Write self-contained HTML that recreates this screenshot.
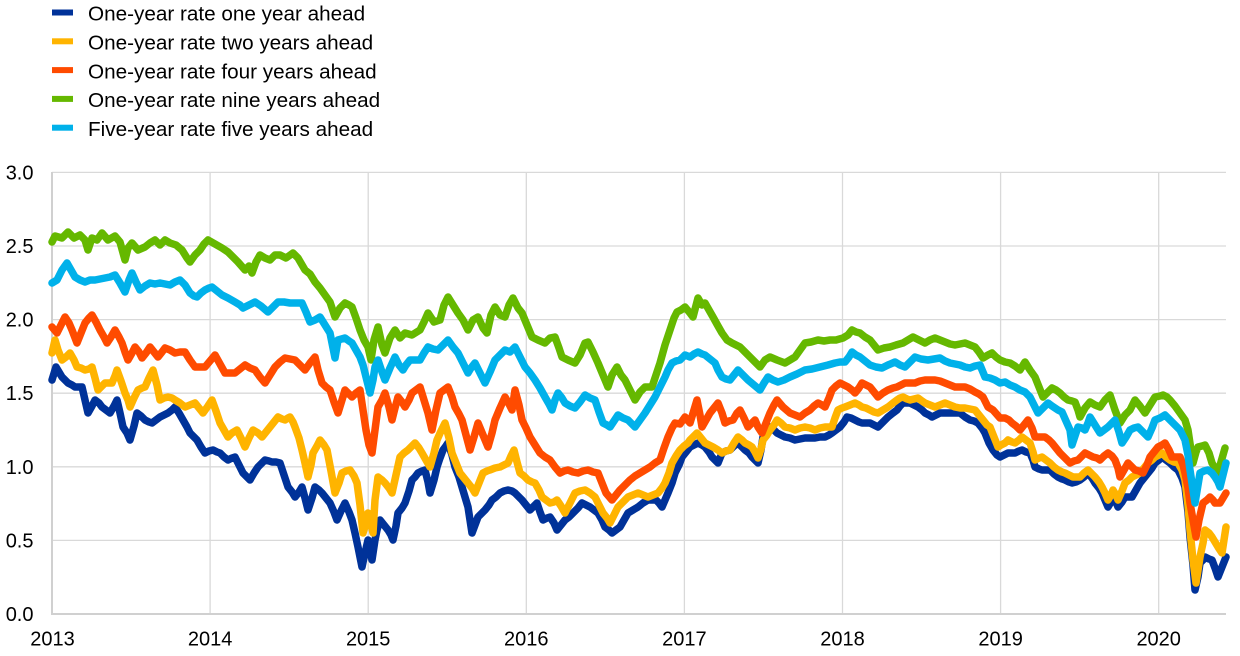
<!DOCTYPE html>
<html><head><meta charset="utf-8"><style>
html,body{margin:0;padding:0;background:#fff;}
svg{display:block;font-family:"Liberation Sans",Arial,sans-serif;}
</style></head><body>
<svg width="1240" height="656" viewBox="0 0 1240 656" xmlns="http://www.w3.org/2000/svg">
<rect width="1240" height="656" fill="#fff"/>
<!-- legend -->
<g font-size="20.7" fill="#000">
<rect x="52" y="9.5" width="21" height="6" fill="#003299"/><text x="88" y="20.7">One-year rate one year ahead</text>
<rect x="52" y="38.3" width="21" height="6" fill="#ffb400"/><text x="88" y="49.5">One-year rate two years ahead</text>
<rect x="52" y="67.1" width="21" height="6" fill="#ff4b00"/><text x="88" y="78.3">One-year rate four years ahead</text>
<rect x="52" y="95.9" width="21" height="6" fill="#65b800"/><text x="88" y="107.1">One-year rate nine years ahead</text>
<rect x="52" y="124.7" width="21" height="6" fill="#00b1ea"/><text x="88" y="135.9">Five-year rate five years ahead</text>
</g>
<!-- grid -->
<g stroke="#d9d9d9" stroke-width="1.3" fill="none">
<line x1="52" y1="172.4" x2="1226" y2="172.4"/>
<line x1="52" y1="246" x2="1226" y2="246"/>
<line x1="52" y1="319.6" x2="1226" y2="319.6"/>
<line x1="52" y1="393.2" x2="1226" y2="393.2"/>
<line x1="52" y1="466.8" x2="1226" y2="466.8"/>
<line x1="52" y1="540.4" x2="1226" y2="540.4"/>
<line x1="210.1" y1="172.4" x2="210.1" y2="614"/>
<line x1="368.2" y1="172.4" x2="368.2" y2="614"/>
<line x1="526.3" y1="172.4" x2="526.3" y2="614"/>
<line x1="684.4" y1="172.4" x2="684.4" y2="614"/>
<line x1="842.5" y1="172.4" x2="842.5" y2="614"/>
<line x1="1000.6" y1="172.4" x2="1000.6" y2="614"/>
<line x1="1158.7" y1="172.4" x2="1158.7" y2="614"/>
</g>
<g stroke="#d0d0d0" stroke-width="2" fill="none">
<line x1="52" y1="172" x2="52" y2="615"/>
<line x1="51" y1="614" x2="1226" y2="614"/>
</g>
<!-- axis labels -->
<g font-size="20" fill="#000" text-anchor="end">
<text x="33.5" y="179.4">3.0</text>
<text x="33.5" y="253">2.5</text>
<text x="33.5" y="326.6">2.0</text>
<text x="33.5" y="400.2">1.5</text>
<text x="33.5" y="473.8">1.0</text>
<text x="33.5" y="547.4">0.5</text>
<text x="33.5" y="621">0.0</text>
</g>
<g font-size="20" fill="#000" text-anchor="middle">
<text x="52.5" y="645.7">2013</text>
<text x="210.1" y="645.7">2014</text>
<text x="368.2" y="645.7">2015</text>
<text x="526.3" y="645.7">2016</text>
<text x="684.4" y="645.7">2017</text>
<text x="842.5" y="645.7">2018</text>
<text x="1000.6" y="645.7">2019</text>
<text x="1158.7" y="645.7">2020</text>
</g>
<!-- series -->
<g fill="none" stroke-width="7.5" stroke-linejoin="round" stroke-linecap="round">
<polyline stroke="#003299" points="52,380 56,367 59,372 62,377 65,380 68,383 72,385 75,387 79,387 82,387 85,400 88,413 92,406 95,400 99,403 102,407 106,410 110,413 114,406 117,400 120,413 123,427 127,433 130,440 134,426 137,413 141,416 145,420 149,422 152,423 156,420 160,417 164,415 168,413 172,410 175,407 179,413 183,420 187,427 190,433 194,437 197,440 201,447 205,453 209,451 213,450 217,452 220,453 224,457 228,460 232,458 235,457 239,465 243,473 247,477 250,480 254,473 258,467 262,463 265,460 269,461 272,462 276,462 280,463 284,475 288,487 292,492 295,497 299,492 302,487 305,498 308,510 312,498 315,487 319,490 322,493 326,498 330,503 334,512 337,520 341,511 345,503 349,512 352,520 355,533 358,547 360,557 362,567 365,553 368,540 370,550 372,560 375,540 377,530 380,520 384,525 388,530 391,535 393,540 396,526 398,513 402,508 405,503 409,491 412,480 415,477 418,473 422,471 425,470 428,482 430,493 434,480 437,467 440,458 443,450 446,446 448,443 452,455 455,467 459,477 462,487 465,497 468,507 470,520 472,533 475,525 478,517 482,513 485,510 489,505 492,500 496,497 500,493 504,491 508,490 512,491 515,493 519,497 522,500 526,505 530,510 534,506 537,503 540,512 543,520 547,518 550,517 554,523 557,530 561,525 565,520 569,517 573,513 578,508 582,503 586,505 590,507 594,510 598,513 602,520 605,527 609,530 612,533 616,530 620,527 624,520 628,513 633,510 638,507 643,503 648,500 652,500 656,500 659,503 662,507 665,500 668,493 672,483 675,473 679,465 682,457 686,452 690,447 694,445 698,443 702,445 705,447 709,452 712,457 715,460 718,463 720,458 722,453 726,451 730,450 734,446 738,443 742,447 745,450 749,453 752,457 755,460 758,463 761,450 763,437 767,432 770,427 774,430 777,433 781,435 785,437 790,438 795,440 800,439 805,438 810,438 815,438 820,437 825,437 829,435 832,433 836,430 840,427 844,422 847,417 851,418 855,420 859,422 862,423 866,423 870,423 874,425 878,427 883,422 888,417 893,413 897,410 900,406 903,403 907,403 910,403 914,405 918,407 922,410 925,413 929,415 932,417 936,415 940,413 945,413 950,413 955,413 960,413 965,417 970,420 974,421 978,423 982,428 985,433 989,443 993,450 997,455 1000,457 1004,455 1008,453 1012,453 1015,453 1019,451 1022,450 1026,452 1030,453 1033,460 1035,467 1039,469 1042,470 1046,470 1050,470 1054,474 1058,477 1062,479 1065,480 1069,482 1072,483 1076,482 1080,480 1084,477 1088,473 1092,478 1095,483 1099,488 1102,493 1105,500 1108,507 1111,502 1113,497 1116,502 1118,507 1122,502 1125,497 1129,497 1132,497 1136,490 1140,483 1144,478 1148,473 1152,468 1155,463 1159,460 1162,457 1166,460 1170,463 1174,467 1178,470 1182,478 1185,487 1188,512 1190,537 1193,565 1195,590 1198,577 1200,563 1203,560 1205,557 1209,559 1212,560 1215,568 1218,577 1220,572 1222,567 1224,562 1226,557"/>
<polyline stroke="#ffb400" points="52,353 55,340 58,350 62,360 66,357 70,353 74,360 77,367 81,368 85,370 89,369 92,367 95,378 98,390 102,386 105,383 109,383 112,383 115,376 117,370 121,381 125,393 128,400 130,407 134,398 138,390 142,388 145,387 149,378 153,370 157,385 160,400 164,398 168,397 172,398 175,400 180,403 185,407 190,405 195,403 199,408 203,413 208,406 212,400 216,411 220,423 224,430 228,437 232,433 237,430 241,438 245,447 249,438 253,430 258,433 262,437 266,432 270,427 274,422 278,417 282,419 285,420 288,418 290,417 293,422 295,427 299,438 302,450 305,463 308,477 311,465 313,453 317,446 320,440 324,445 327,450 331,471 335,493 339,483 342,473 346,471 350,470 354,476 357,483 360,505 363,533 366,523 368,513 370,520 373,533 375,500 378,477 382,480 385,483 389,488 392,493 396,475 400,457 404,453 408,450 412,446 415,443 419,448 422,453 426,460 430,467 434,453 437,440 441,431 445,423 449,438 452,453 456,463 460,473 464,478 468,483 472,488 475,493 479,483 483,473 487,471 490,470 495,468 500,467 504,465 508,463 511,456 514,450 517,462 520,473 524,476 528,480 532,482 535,483 539,490 542,497 546,500 550,503 554,502 557,500 561,506 565,513 570,503 575,493 580,491 585,490 590,493 595,497 599,505 603,513 607,518 610,523 614,515 618,507 623,502 628,497 633,495 638,493 643,495 648,497 653,495 658,493 662,488 665,483 669,473 672,463 676,456 680,450 684,446 688,443 690,440 694,436 697,433 701,438 705,443 709,445 713,447 718,450 722,453 726,451 730,450 734,443 738,437 742,440 745,443 749,445 752,447 755,452 758,458 761,449 763,440 767,435 770,430 774,425 777,420 781,423 785,427 790,428 795,430 800,428 805,427 810,428 815,430 820,428 825,427 829,427 832,427 835,418 838,410 842,408 845,407 850,405 855,403 859,405 862,407 866,408 870,410 874,412 878,413 883,410 888,407 893,403 897,400 900,398 903,397 907,399 910,400 914,399 918,398 922,401 925,403 930,405 935,407 940,405 945,403 950,405 955,407 960,408 965,408 970,409 975,410 979,415 983,420 987,425 990,427 994,437 998,447 1001,445 1005,443 1008,440 1012,442 1015,443 1019,440 1022,437 1026,440 1030,443 1033,452 1035,460 1039,458 1042,457 1046,460 1050,463 1054,467 1058,470 1062,472 1065,473 1069,475 1073,477 1077,477 1080,477 1084,473 1088,470 1092,474 1095,477 1099,482 1102,487 1105,493 1108,500 1111,495 1113,490 1116,495 1118,500 1122,491 1125,483 1129,480 1132,477 1136,475 1140,473 1144,468 1148,463 1152,460 1155,457 1159,455 1162,453 1166,457 1170,460 1174,462 1178,463 1182,470 1185,480 1188,505 1190,530 1193,560 1196,583 1198,570 1200,557 1203,543 1205,530 1209,533 1212,537 1215,542 1218,547 1220,550 1222,553 1224,540 1226,527"/>
<polyline stroke="#ff4b00" points="52,327 57,333 61,325 65,317 69,323 72,330 77,343 81,333 85,323 89,318 92,315 96,322 100,330 104,337 107,343 111,337 115,330 119,337 122,343 125,352 128,360 132,353 135,347 139,352 142,358 146,353 150,347 154,352 158,357 162,352 165,348 170,350 175,353 180,352 185,352 190,360 195,367 200,367 205,367 210,361 215,355 220,364 225,373 230,373 235,373 240,369 245,365 250,368 255,370 260,377 265,383 270,375 275,367 280,362 285,358 290,359 295,360 300,365 305,370 310,363 315,357 318,370 322,383 326,387 330,390 334,402 338,413 342,400 345,390 349,394 352,397 356,393 360,390 363,410 366,430 369,445 372,453 375,430 378,407 382,400 385,393 389,407 392,420 395,408 398,397 402,402 405,407 409,400 412,393 416,390 420,387 424,400 428,413 432,430 436,410 440,393 444,390 448,387 452,397 455,407 459,414 462,420 466,435 470,450 474,437 478,423 483,435 488,447 492,433 495,420 500,408 505,397 509,404 512,410 515,390 519,405 522,420 526,428 530,437 535,445 540,453 545,457 550,460 555,467 560,473 564,471 568,470 573,472 578,473 583,471 588,470 593,472 598,473 602,483 606,493 612,500 616,495 620,490 625,485 630,480 635,476 640,473 645,470 650,467 655,463 660,460 664,448 668,437 672,428 675,423 680,424 685,417 690,423 694,410 697,400 700,415 702,427 706,420 710,413 714,408 718,403 722,413 725,423 729,421 733,420 737,413 740,410 744,418 748,427 752,423 755,420 758,427 762,433 766,423 770,413 774,405 777,400 783,407 790,413 795,415 800,417 805,413 810,410 814,406 818,403 822,405 825,407 829,398 832,390 836,386 840,383 844,385 848,387 852,390 855,393 859,388 862,383 866,385 870,387 874,392 878,397 883,393 888,390 893,388 897,387 901,385 905,383 910,383 915,383 920,381 925,380 930,380 935,380 940,381 945,383 950,385 955,387 960,387 965,387 970,389 975,392 979,394 983,397 988,407 993,410 1000,418 1005,418 1009,420 1012,423 1016,426 1020,430 1024,425 1028,420 1032,428 1035,437 1040,437 1045,437 1049,440 1052,443 1056,448 1060,453 1065,458 1070,463 1074,461 1078,460 1082,456 1085,453 1089,455 1093,457 1097,458 1100,460 1104,456 1108,453 1112,456 1115,460 1118,468 1120,477 1124,470 1128,463 1132,467 1135,470 1139,471 1143,473 1147,465 1150,457 1154,452 1158,447 1162,445 1165,443 1169,450 1172,457 1176,457 1180,457 1183,465 1185,473 1188,488 1190,503 1193,520 1196,537 1199,520 1203,503 1207,500 1210,497 1213,500 1215,503 1218,503 1220,503 1223,498 1226,493"/>
<polyline stroke="#65b800" points="52,242 55,236 62,238 68,232 74,238 80,235 85,240 88,250 92,238 97,240 102,233 108,240 115,236 120,242 125,260 128,248 132,243 138,250 145,247 150,243 155,240 160,245 165,240 170,243 176,245 182,250 187,258 190,262 195,255 200,250 204,244 208,240 215,244 222,248 228,252 232,256 238,262 245,270 249,266 252,273 256,262 260,255 265,258 270,260 275,255 280,255 286,258 293,253 298,258 305,270 310,274 315,282 320,288 325,295 330,302 335,317 340,308 345,303 349,305 352,307 356,318 360,330 364,340 368,347 371,360 374,340 378,327 382,345 385,353 390,338 395,330 400,338 405,333 412,335 420,330 424,322 428,313 434,322 440,320 444,305 448,297 453,305 458,313 463,320 468,330 473,320 478,317 483,328 487,333 491,315 495,307 500,315 505,317 509,305 513,298 518,308 522,313 527,325 532,337 538,340 545,343 550,338 555,337 559,348 562,357 568,360 575,363 580,355 585,343 588,342 593,352 598,363 603,375 608,387 612,375 617,367 621,375 625,380 630,390 635,400 640,392 645,387 652,387 656,375 660,363 665,345 670,330 674,318 677,312 681,310 685,307 690,313 693,317 698,298 702,305 705,303 709,310 713,317 718,326 722,333 727,340 732,343 736,345 740,347 745,352 750,357 755,362 760,367 765,360 770,357 777,360 785,363 790,360 795,357 800,350 805,343 811,342 818,340 824,341 830,340 836,340 843,338 848,335 852,330 856,332 860,333 865,337 870,340 874,345 878,350 884,348 890,347 896,345 903,343 908,340 913,337 919,340 925,343 930,340 935,338 940,340 945,342 950,344 955,345 960,344 965,343 970,345 975,347 979,352 983,358 988,355 992,353 996,357 1000,360 1005,362 1010,363 1015,366 1020,370 1025,362 1030,370 1035,377 1039,387 1043,397 1048,392 1052,388 1056,390 1060,393 1064,397 1068,400 1072,401 1075,402 1078,410 1080,417 1085,408 1090,402 1095,405 1100,407 1105,400 1110,395 1115,410 1120,423 1125,415 1130,410 1135,400 1140,406 1145,413 1150,405 1155,397 1160,396 1163,395 1167,397 1170,400 1175,406 1180,413 1185,420 1188,430 1191,450 1193,463 1196,452 1198,447 1202,446 1205,445 1209,453 1212,463 1215,468 1218,473 1221,462 1225,448"/>
<polyline stroke="#00b1ea" points="52,283 57,280 62,270 67,263 71,270 75,277 80,280 85,282 90,280 95,280 100,279 105,278 110,277 115,275 120,283 125,292 129,280 132,273 136,282 140,290 145,286 150,283 155,284 160,283 165,284 170,285 175,282 180,280 185,285 190,293 194,296 197,297 201,293 205,290 209,288 212,287 217,291 222,295 228,298 235,302 240,305 243,308 249,305 255,302 261,306 268,312 273,307 278,302 284,302 290,303 296,303 302,303 306,312 310,322 315,320 320,317 325,325 330,333 335,358 338,340 345,338 349,341 352,343 356,350 360,357 363,365 365,373 368,385 370,393 373,380 375,367 378,360 382,372 385,380 390,368 395,357 399,365 403,370 406,365 410,360 415,360 420,360 424,353 428,347 433,349 438,350 443,345 448,340 453,347 458,353 463,363 468,373 471,368 475,363 480,373 485,383 490,372 495,360 500,355 505,350 510,352 515,347 520,357 525,367 530,373 535,380 540,388 545,397 549,404 552,410 555,400 558,393 562,398 565,403 570,406 575,408 580,402 585,395 590,398 595,400 599,412 603,423 607,425 610,427 614,421 618,415 623,418 628,420 632,424 635,427 640,420 645,413 650,405 655,397 660,387 665,377 668,370 672,363 676,361 680,360 685,355 690,357 694,354 698,352 702,354 705,355 710,359 715,363 718,370 722,377 726,379 730,380 734,375 738,370 743,375 748,380 754,385 760,390 764,383 768,377 773,380 778,382 784,380 790,377 797,374 805,370 812,369 820,367 828,365 835,363 840,362 845,362 849,357 852,352 856,355 860,357 865,361 870,365 876,367 882,368 888,365 895,362 900,365 905,367 910,362 915,357 921,359 928,360 934,359 940,358 945,361 950,363 955,364 960,365 965,367 970,368 975,366 980,365 985,377 990,378 995,380 1000,383 1005,382 1010,385 1015,387 1020,390 1025,392 1030,397 1034,405 1038,413 1043,408 1048,403 1052,406 1055,408 1058,410 1062,412 1066,421 1070,430 1072,445 1075,436 1078,427 1082,428 1085,430 1088,423 1090,417 1095,425 1100,433 1104,430 1108,427 1112,423 1115,420 1119,432 1122,443 1126,437 1130,430 1134,428 1138,427 1143,432 1148,437 1152,428 1155,420 1160,418 1165,415 1169,419 1173,423 1177,427 1180,430 1185,440 1188,455 1190,470 1193,490 1195,503 1198,485 1200,473 1204,471 1208,470 1212,473 1215,477 1218,482 1220,487 1223,475 1226,463"/>
</g>
</svg>
</body></html>
